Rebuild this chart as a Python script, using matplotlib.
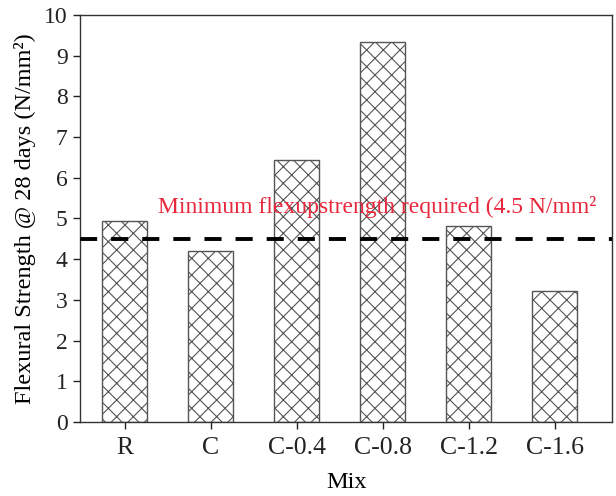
import matplotlib
matplotlib.use('Agg')
import matplotlib.pyplot as plt

mixes = ['R', 'C', 'C-0.4', 'C-0.8', 'C-1.2', 'C-1.6']
strength = [4.93, 4.2, 6.43, 9.33, 4.82, 3.21]
min_required = 4.5
note = 'Minimum flexupstrength required (4.5 N/mm\u00b2'

plt.rcParams['font.family'] = ['Liberation Serif', 'DejaVu Serif']
plt.rcParams['hatch.color'] = '#707070'
plt.rcParams['hatch.linewidth'] = 0.8

fig = plt.figure(figsize=(6.16, 4.96), dpi=100)
ax = fig.add_axes([0.130, 0.149, 0.864, 0.821])

x = range(len(mixes))
ax.bar(x, strength, width=0.52, color='white', edgecolor='#555555',
       linewidth=1.0, hatch='\\\\//', zorder=2)
ax.axhline(min_required, color='black', linestyle=(0, (4.4, 3.6)), linewidth=2.8, zorder=3)
ax.text(0.39, 5.28, note, color='#e8283c', fontsize=17, ha='left', va='center', zorder=4)

ax.set_xlim(-0.52, 5.67)
ax.set_ylim(0, 10)
ax.set_yticks(range(0, 11))
ax.set_xticks(list(x))
ax.set_xticklabels(mixes)
ax.tick_params(axis='both', direction='out', width=1.0, length=5, colors='#222222')
ax.tick_params(axis='y', labelsize=17, pad=4)
ax.tick_params(axis='x', labelsize=18.5, pad=6)
ax.set_xlabel('Mix', fontsize=17.5, labelpad=9)
ax.set_ylabel('Flexural Strength @ 28 days (N/mm\u00b2)', fontsize=17.5, labelpad=6)
for s in ax.spines.values():
    s.set_linewidth(1.0)
    s.set_color('#333333')

fig.savefig('out.png', dpi=100)
